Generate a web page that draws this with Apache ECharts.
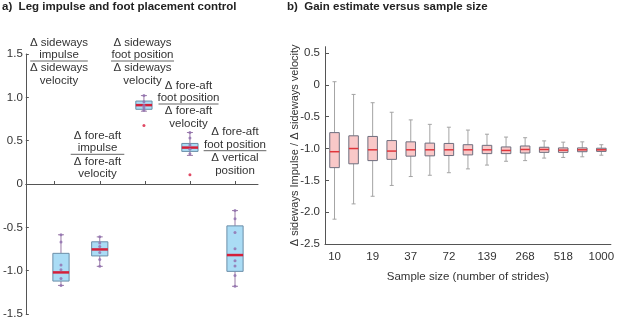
<!DOCTYPE html>
<html><head><meta charset="utf-8">
<script src="https://cdn.jsdelivr.net/npm/echarts@6/dist/echarts.min.js"></script>
<style>html,body{margin:0;padding:0;background:#fff}#c{width:617px;height:320px}</style>
</head><body><div id="c"></div>
<script>
// ---------- Panel a data ----------
const leftPositions = [1.14, 2, 2.98, 4, 5];
const leftMin    = [-1.17, -0.95, 0.84, 0.33, -1.18];
const leftQ1     = [-1.12, -0.83, 0.862, 0.376, -1.008];
const leftMedian = [-1.02, -0.755, 0.91, 0.42, -0.82];
const leftQ3     = [-0.80, -0.667, 0.957, 0.468, -0.483];
const leftMax    = [-0.586, -0.61, 1.02, 0.594, -0.307];
const leftPoints = [
  [-0.586, -0.67, -0.935, -0.99, -1.09, -1.17],
  [-0.61, -0.68, -0.72, -0.79, -0.87, -0.95],
  [1.02, 0.95, 0.91, 0.88, 0.85],
  [0.594, 0.53, 0.45, 0.40, 0.35],
  [-0.307, -0.40, -0.56, -0.747, -0.885, -0.946, -1.057, -1.18]
];
const leftOutliers = [[2.98, 0.674], [4, 0.107]];
const leftYTicks = [-1.5, -1, -0.5, 0, 0.5, 1, 1.5];
const leftXTicks = [1, 2, 3, 4, 5];
const leftLabels = [
  {num: ['Δ sideways', 'impulse'], den: ['Δ sideways', 'velocity']},
  {num: ['Δ fore-aft', 'impulse'], den: ['Δ fore-aft', 'velocity']},
  {num: ['Δ sideways', 'foot position'], den: ['Δ sideways', 'velocity']},
  {num: ['Δ fore-aft', 'foot position'], den: ['Δ fore-aft', 'velocity']},
  {num: ['Δ fore-aft', 'foot position'], den: ['Δ vertical', 'position']}
];

// ---------- Panel b data ----------
const rightCategories = ['10','14','19','27','37','52','72','100','139','193','268','373','518','720','1000'];
const rightMin    = [-2.11,-1.87,-1.75,-1.58,-1.44,-1.42,-1.38,-1.32,-1.26,-1.20,-1.19,-1.15,-1.14,-1.13,-1.105];
const rightQ1     = [-1.30,-1.24,-1.19,-1.17,-1.12,-1.115,-1.11,-1.10,-1.08,-1.08,-1.07,-1.06,-1.06,-1.05,-1.045];
const rightMedian = [-1.05,-1.00,-1.02,-1.04,-1.02,-1.02,-1.02,-1.02,-1.02,-1.03,-1.015,-1.015,-1.025,-1.02,-1.02];
const rightQ3     = [-0.75,-0.80,-0.81,-0.875,-0.895,-0.915,-0.92,-0.94,-0.95,-0.975,-0.96,-0.98,-0.99,-0.99,-0.995];
const rightMax    = [0.05,-0.15,-0.28,-0.43,-0.55,-0.62,-0.665,-0.71,-0.775,-0.82,-0.83,-0.88,-0.90,-0.895,-0.94];
const rightYTicks = [-2.5, -2, -1.5, -1, -0.5, 0, 0.5];

const FONT = 'Liberation Sans';
const TXT = '#333';
const AX = '#555';

function fmt(v){ return v === 0 ? '0' : v.toFixed(1); }

function boxRenderer(cfg){
  return function(params, api){
    const x = api.value(0);
    const pMin = api.coord([x, api.value(1)]);
    const pQ1 = api.coord([x, api.value(2)]);
    const pMed = api.coord([x, api.value(3)]);
    const pQ3 = api.coord([x, api.value(4)]);
    const pMax = api.coord([x, api.value(5)]);
    const w = api.size([1, 0])[0] * cfg.widthRatio;
    const h = w / 2, c = cfg.cap / 2;
    const cx = pMed[0];
    const ls = {stroke: cfg.whisker, lineWidth: 1};
    return {type: 'group', children: [
      {type: 'line', shape: {x1: cx, y1: pQ3[1], x2: cx, y2: pMax[1]}, style: ls},
      {type: 'line', shape: {x1: cx, y1: pQ1[1], x2: cx, y2: pMin[1]}, style: ls},
      {type: 'line', shape: {x1: cx - c, y1: pMax[1], x2: cx + c, y2: pMax[1]}, style: ls},
      {type: 'line', shape: {x1: cx - c, y1: pMin[1], x2: cx + c, y2: pMin[1]}, style: ls},
      {type: 'rect', shape: {x: cx - h, y: pQ3[1], width: w, height: pQ1[1] - pQ3[1]},
        style: {fill: cfg.fill, stroke: cfg.border, lineWidth: 1}},
      {type: 'line', shape: {x1: cx - h, y1: pMed[1], x2: cx + h, y2: pMed[1]},
        style: {stroke: cfg.median, lineWidth: cfg.medianWidth}}
    ]};
  };
}

const leftBoxData = leftPositions.map((p, i) => [p, leftMin[i], leftQ1[i], leftMedian[i], leftQ3[i], leftMax[i]]);
const leftPointData = [];
leftPoints.forEach((arr, i) => arr.forEach(v => leftPointData.push([leftPositions[i], v])));
const rightBoxData = rightCategories.map((c, i) => [i, rightMin[i], rightQ1[i], rightMedian[i], rightQ3[i], rightMax[i]]);

// fraction label layout (annotation positions)
const labelLayout = [
  {x: 59, y: 61, w: 57.6},
  {x: 97.5, y: 154.3, w: 53.6},
  {x: 142.5, y: 61, w: 63},
  {x: 188.5, y: 104, w: 60},
  {x: 235, y: 150.7, w: 62.7}
];
const graphics = [];
leftLabels.forEach((lab, i) => {
  const L = labelLayout[i];
  const offs = [-18.5, -6.2, 7.2, 19.9];
  const lines = lab.num.concat(lab.den);
  lines.forEach((t, k) => graphics.push({
    type: 'text', x: L.x, y: L.y + offs[k],
    style: {text: t, fill: TXT, font: '11.5px "' + FONT + '"', align: 'center', verticalAlign: 'middle'}
  }));
  graphics.push({type: 'line', shape: {x1: L.x - L.w/2, y1: L.y, x2: L.x + L.w/2, y2: L.y},
    style: {stroke: '#666', lineWidth: 1}});
});

const chart = echarts.init(document.getElementById('c'), null, {renderer: 'canvas'});
chart.setOption({
  animation: false,
  textStyle: {fontFamily: FONT},
  title: [
    {text: 'a)  Leg impulse and foot placement control', left: 2, top: 1, padding: 0,
      textStyle: {fontSize: 11.5, fontWeight: 'bold', color: '#222', fontFamily: FONT}},
    {text: 'b)  Gain estimate versus sample size', left: 287, top: 1, padding: 0,
      textStyle: {fontSize: 11.5, fontWeight: 'bold', color: '#222', fontFamily: FONT}}
  ],
  grid: [
    {left: 23.5, right: 617 - 258, top: 54, bottom: 5},
    {left: 325, right: 2, top: 46.7, bottom: 76}
  ],
  xAxis: [
    {gridIndex: 0, type: 'value', min: 0.36, max: 5.51,
      axisLine: {onZero: true, lineStyle: {color: AX}},
      axisTick: {inside: true, length: 3, customValues: leftXTicks, lineStyle: {color: AX}},
      axisLabel: {show: false}, splitLine: {show: false}},
    {gridIndex: 1, type: 'category', data: rightCategories, boundaryGap: true,
      axisLine: {onZero: false, lineStyle: {color: AX}},
      axisTick: {inside: true, length: 4, interval: 1, alignWithLabel: true, lineStyle: {color: AX}},
      axisLabel: {interval: 1, color: TXT, fontSize: 11.5, margin: 7},
      name: 'Sample size (number of strides)', nameLocation: 'middle', nameGap: 27,
      nameTextStyle: {color: TXT, fontSize: 11.5}}
  ],
  yAxis: [
    {gridIndex: 0, type: 'value', min: -1.5, max: 1.5,
      axisLine: {show: true, onZero: false, lineStyle: {color: AX}},
      axisTick: {show: true, inside: true, length: 3, customValues: leftYTicks, lineStyle: {color: AX}},
      axisLabel: {customValues: leftYTicks, formatter: fmt, color: TXT, fontSize: 11.5, margin: 3},
      splitLine: {show: false}},
    {gridIndex: 1, type: 'value', min: -2.5, max: 0.6,
      axisLine: {show: true, onZero: false, lineStyle: {color: AX}},
      axisTick: {show: true, inside: true, length: 4, customValues: rightYTicks, lineStyle: {color: AX}},
      axisLabel: {customValues: rightYTicks, formatter: fmt, color: TXT, fontSize: 11.5, margin: 5},
      splitLine: {show: false},
      name: 'Δ sideways Impulse / Δ sideways velocity', nameLocation: 'middle', nameGap: 25,
      nameMoveOverlap: false,
      nameTextStyle: {color: TXT, fontSize: 11}}
  ],
  series: [
    {type: 'custom', xAxisIndex: 0, yAxisIndex: 0, data: leftBoxData, z: 2,
      renderItem: boxRenderer({widthRatio: 0.36, cap: 6, fill: '#aadcf5', border: '#6b8ea8',
        whisker: '#9a7aa6', median: '#d4203a', medianWidth: 2.5}),
      encode: {x: 0, y: [1, 2, 3, 4, 5]}},
    {type: 'scatter', xAxisIndex: 0, yAxisIndex: 0, data: leftPointData, z: 3,
      symbol: 'circle', symbolSize: 3, itemStyle: {color: '#9272b0', opacity: 0.85}},
    {type: 'scatter', xAxisIndex: 0, yAxisIndex: 0, data: leftOutliers, z: 3,
      symbol: 'circle', symbolSize: 3, itemStyle: {color: '#d81b3c'}},
    {type: 'custom', xAxisIndex: 1, yAxisIndex: 1, data: rightBoxData, z: 2,
      renderItem: boxRenderer({widthRatio: 0.5, cap: 4, fill: '#f9c8c8', border: '#6e6e7e',
        whisker: '#a4a4a4', median: '#e0363c', medianWidth: 1.5}),
      encode: {x: 0, y: [1, 2, 3, 4, 5]}}
  ],
  graphic: graphics
});
</script>
</body></html>
